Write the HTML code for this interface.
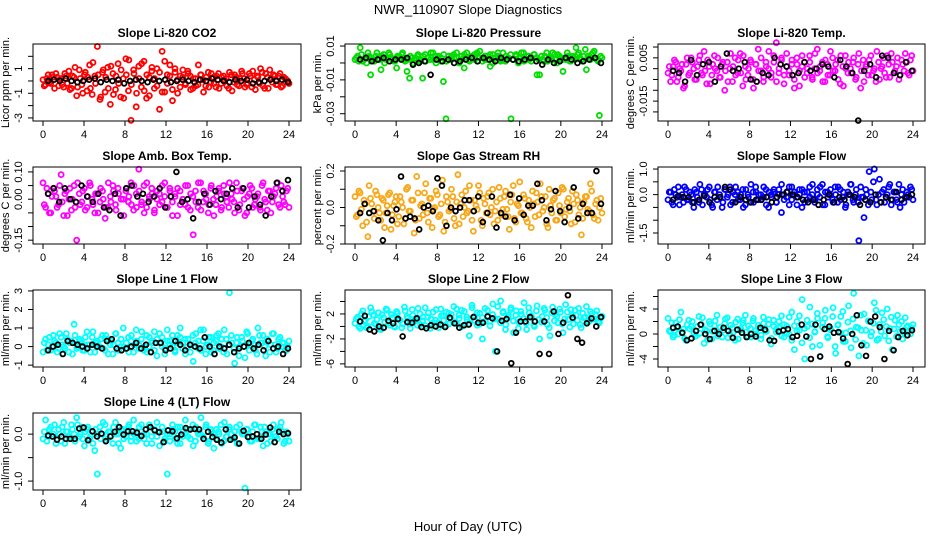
<!DOCTYPE html>
<html><head><meta charset="utf-8">
<style>
html,body{margin:0;padding:0;background:#fff;}
svg{display:block;font-family:"Liberation Sans",sans-serif;}
</style></head>
<body>
<svg id="chart" width="936" height="540" viewBox="0 0 936 540" xmlns="http://www.w3.org/2000/svg">
<text x="468" y="14" font-size="13" text-anchor="middle">NWR_110907  Slope Diagnostics</text>
<text x="468" y="531" font-size="13" text-anchor="middle">Hour of Day (UTC)</text>
</svg>
<script>
// ---- data (colored = all measurements, black = flagged/reference) ----
const co2Vals=[0.1,-0.3,0.5,-0.2,0.3,0.6,-0.4,0.2,-0.5,0.4,0.8,-0.6,0.3,-1.2,0.9,-0.3,0.5,-0.8,1.3,-1.1,0.4,2.8,-1.5,0.7,-0.9,1.1,-1.9,0.6,-0.7,1.4,-1.3,0.2,1.8,-0.8,-3.2,0.9,-2.1,1.2,-0.5,1.6,-1.4,0.3,0.8,-0.6,1.0,-2.3,2.4,-0.9,0.5,1.3,-1.6,0.7,-1.0,0.4,0.9,-0.3,0.6,-0.7,0.2,-0.4,1.3,0.5,-0.9,0.3,-0.5,0.6,-0.2,0.4,-0.6,0.3,0.1,-0.4,0.7,-0.8,0.5,-0.3,0.2,0.6,-0.5,-0.2,0.4,0.8,-0.7,0.3,1.0,-0.4,0.6,-0.6,0.2,0.5,-0.3,0.4,-0.5,0.3,0.1,-0.2];
const co2Vals2=[-0.4,0.2,-0.1,0.5,-0.6,0.3,0.1,-0.3,0.6,-0.2,-0.7,0.4,1.1,-0.5,0.2,-1.0,0.7,0.3,-0.6,1.5,-0.2,0.5,-1.3,0.9,0.3,-0.6,1.2,-1.1,0.4,-0.2,0.9,-1.4,0.5,1.7,-0.3,0.6,-1.0,0.2,1.4,-0.8,0.5,-1.2,1.1,0.2,-0.4,0.7,-0.9,1.6,-0.2,0.4,-0.7,1.0,0.1,-0.5,0.3,-0.2,0.8,0.4,-0.6,0.2,-0.3,0.5,0.1,-0.4,0.7,-0.1,0.3,-0.5,0.6,-0.2,0.4,0.2,-0.6,0.5,-0.1,0.3,-0.4,0.8,0.2,-0.3,0.6,-0.5,0.1,0.4,-0.2,0.7,-0.6,0.3,0.9,-0.1,0.4,-0.3,0.6,-0.4,0.2,0];
const co2Ref=[0,0.1,0,0.2,0,-0.1,0,0.1,0.2,-0.1,0.1,0,0.1,-0.2,0,0.1,0,-0.1,0.1,0,0.1,-0.1,0,0.1,0,-0.1,0.1,0,0.2,0.1,0,-0.1,0.1,0,0.1,-0.2,-0.1,0,0.1,0,0.1,-0.1];
const presVals=[2,4,9,1,3,6,-7,2,4,3,-4,5,2,6,3,1,-3,4,5,2,-5,-9,3,2,4,1,-9,5,3,2,6,4,3,1,-11,-33,4,2,5,3,1,4,-3,6,2,3,5,1,7,3,2,4,-2,5,3,6,1,2,4,3,-33,2,5,3,6,1,4,2,3,5,-7,-7,2,4,1,3,6,2,5,3,-5,2,4,1,3,9,6,2,4,-4,3,5,7,2,-31,3];
const presVals2=[3,1,5,2,0,4,3,1,6,2,4,0,3,5,2,1,4,3,6,1,2,4,0,3,5,2,4,1,3,6,2,0,4,3,5,1,2,4,3,6,0,2,5,3,1,4,2,6,3,1,4,2,5,0,3,4,2,6,1,3,5,2,4,0,3,6,2,4,1,5,3,2,4,1,6,3,2,5,0,4,2,3,6,1,4,2,5,3,1,8,4,2,6,3,1,4];
const presRef=[2,3,1,2,3,1,2,2,3,-1,0,1,-7,2,1,2,0,1,2,3,1,3,2,1,3,2,2,1,2,3,1,-1,2,0,1,3,2,0,1,2,3,0];
const tempVals=[-2,-6,1,3,-4,-1,-9,2,-3,5,0,-5,4,-2,8,-7,1,-3,6,-1,-4,2,-10,3,0,-6,5,-2,7,-8,1,-3,4,-5,2,9,-1,-6,3,0,-4,6,12,-2,5,-7,1,-3,4,-9,2,-1,6,-4,0,3,-5,7,-2,1,-6,4,-3,8,-1,2,-5,6,-8,0,3,-2,5,-4,7,-1,-6,2,4,-3,0,8,-5,1,-2,6,-4,3,-1,5,-3,2,7,-2,4,-1];
const tempVals2=[1,-3,4,-6,0,2,-8,5,-2,3,-5,1,6,-3,-1,4,-7,2,0,5,-4,3,-1,-6,7,1,-3,4,-2,6,-5,0,3,-9,2,-1,5,-4,1,8,-2,3,-6,0,4,-3,7,-1,2,-5,5,-8,1,3,-2,6,-4,0,9,-1,3,-6,2,-3,5,-1,4,-7,1,6,-2,0,3,-5,2,-9,4,1,-3,6,-1,-6,3,0,5,-4,2,7,-2,1,-5,4,-1,3,-3,6];
const tempRef=[-1,-2,-6,4,-3,2,3,-6,1,7,-1,0,3,-5,-6,-2,-3,5,2,1,-3,-2,3,-1,0,2,1,-4,4,1,-2,-24,-1,2,-4,6,5,-2,-3,3,-1];
const ambVals=[6,-3,2,-5,4,1,-2,9,-6,3,0,-4,5,-15,2,-1,4,-3,6,0,-5,2,-1,3,-7,-3,1,5,-2,4,-6,0,3,-1,6,-4,2,11,-2,5,-3,1,4,-5,0,2,-1,6,-3,3,-6,1,4,-2,0,5,-3,2,-13,-1,6,-4,3,0,-2,5,-6,1,4,-3,2,-1,6,0,-5,3,-2,4,-6,1,5,-3,0,2,-4,6,-1,3,-5,1,4,-2,5,-1,3,-3];
const ambVals2=[-2,4,-5,1,3,-3,5,-1,2,-6,4,0,-3,6,-2,3,-4,1,5,-2,2,-5,4,0,-3,6,-1,3,-4,2,0,-6,4,1,-2,5,-3,3,-1,-5,6,0,2,-4,3,-2,5,1,-3,4,-1,2,-6,3,0,-2,5,-4,1,3,-3,6,-1,2,-5,4,0,-2,3,-4,5,1,-3,2,-1,6,-4,3,0,-5,2,4,-2,1,-3,5,0,-4,3,-1,2,6,-3,1,-2,4];
const ambRef=[2,4,-1,4,0,-1,5,1,-1,2,-3,-4,2,-6,4,5,1,2,-1,1,4,-3,1,10,-1,0,-7,-1,2,-2,3,0,2,4,-3,4,-3,1,-2,-6,1,6,3,7];
const rhVals=[6,-4,8,-10,2,-16,5,-2,9,0,-7,4,-3,7,-12,1,6,-5,3,-9,10,-2,4,-14,17,-6,2,8,-3,5,-11,0,7,-4,15,-8,3,-1,6,-10,18,2,-5,9,-2,4,-13,1,12,-7,5,-3,8,0,-9,3,11,-4,6,-1,-12,7,-6,2,14,-3,5,-8,0,9,-5,3,13,-2,6,-11,1,4,-7,8,-3,10,-1,5,-9,2,7,-4,-15,3,6,-2,9,-6,4,0,-3];
const rhVals2=[-5,9,-1,4,-8,12,2,-6,7,-3,5,-11,1,8,-4,3,-9,6,0,-6,11,-2,4,-7,8,1,-4,13,-8,5,-1,9,-5,2,-13,6,-2,10,-6,3,-9,7,0,-3,12,-7,4,-1,8,-10,2,6,-4,10,-2,-7,5,-1,9,-5,3,12,-8,1,-3,7,-6,4,-11,2,8,-4,6,0,-9,10,-3,5,-7,1,11,-5,3,-2,9,-8,4,0,-6,6,-1,13,-4,2,-7,5];
const rhRef=[-3,2,-3,-2,-7,-18,-3,-7,-1,17,-6,-5,-6,-12,0,1,-2,16,12,-10,0,-2,0,4,4,-2,6,-8,-3,6,-11,-3,-5,7,-7,5,-4,1,1,13,4,-7,-1,9,-2,-8,0,11,-6,2,-3,-3,20,2];
const sampVals=[-2,1,-4,0,3,-1,-3,2,-2,0,-5,1,-3,2,0,-1,3,-4,1,-2,0,-5,2,-1,3,-3,0,1,-2,2,-4,0,-3,1,3,-2,0,-1,2,-5,0,1,-3,2,-7,0,-1,3,-2,1,-4,0,2,-3,1,-1,4,-2,0,3,-4,1,-1,2,-3,0,3,-2,1,-4,0,4,-3,2,-18,-1,-9,0,9,-2,10,-4,6,1,-3,0,4,-2,1,-3,-5,2,-1,0,3,-2];
const sampVals2=[1,-3,2,-1,-4,0,3,-2,1,-3,2,-1,4,-4,0,2,-2,-5,1,3,-1,-3,2,0,-4,1,3,-2,0,-5,2,-1,4,-3,1,0,-2,3,-4,1,-1,2,-3,0,4,-2,1,-4,3,0,-1,2,-5,1,-2,3,0,-3,2,-1,4,-4,1,0,-2,3,-3,2,-1,-5,1,4,-2,0,-3,3,-1,2,-4,1,5,-2,0,-3,2,-1,3,-4,1,-2,4,0,-3,1,-1,2];
const sampRef=[-2,-0.5,-1,-1,-3,-2,-0.5,-3,-1,-1,3,2,-3,-1,-2,-3,-2,-2,-1,-3,-1,0,1,0,-1,-2,-3,-2,-4,-2,0,-3,-1,-2,0,-1,-4,-2,-3,0,-3,-1,-2,1,-2,-1,0];
const line1Vals=[-0.3,0.4,0.1,-0.2,0.6,0.2,-0.1,0.5,0,0.7,-0.3,0.3,1.2,-0.1,0.4,0.2,-0.2,0.8,0.1,0.5,-0.3,0.3,0,0.6,-0.2,0.4,0.1,-0.4,0.7,0.2,0,1.0,-0.1,0.5,0.3,-0.3,0.9,0.1,0.4,-0.2,0.6,0,0.3,0.8,-0.5,0.2,0.5,-0.1,0.9,0.3,0,-0.3,0.6,1.0,0.2,-0.4,0.4,0.1,-0.8,0.7,0.3,-0.2,0.9,0,0.5,-0.3,0.2,0.6,-0.1,0.4,0.9,-0.4,2.9,0.2,-0.9,0.5,0,0.3,-0.6,0.7,0.1,0.4,-0.2,1.0,0.2,0.6,-0.5,0.3,0.1,0.7,-0.3,0.4,0,0.2,-0.2,0.3];
const line1Vals2=[0.2,-0.2,0.5,0,0.3,-0.3,0.7,0.1,-0.1,0.4,0.2,-0.4,0.6,0,0.3,-0.2,0.5,0.1,-0.3,0.8,0.2,0,0.4,-0.1,0.6,-0.4,0.3,0.1,0.7,-0.2,0.4,0,0.2,-0.3,0.6,0.1,0.3,-0.1,0.8,0,-0.3,0.5,0.2,-0.2,0.4,0.7,0,-0.4,0.3,0.1,0.6,-0.2,0.2,0.5,-0.1,0.4,0,-0.3,0.6,0.2,-0.1,0.9,0.3,-0.4,0.1,0.5,-0.2,0.3,0.7,0,-0.3,0.4,0.1,0.6,-0.1,0.2,-0.5,0.5,0,0.8,-0.2,0.3,0.1,-0.4,0.6,0.2,0,0.4,-0.3,0.7,0.1,-0.1,0.5,0.2,-0.2,0];
const line1Ref=[-0.2,0,0.1,-0.4,0.3,0.2,0.1,0,-0.1,0.1,0,-0.1,0.3,0.4,-0.1,-0.2,-0.1,0,0.2,-0.1,0.1,-0.3,0.2,0.2,-0.2,-0.1,0.3,0.1,-0.2,0.1,0,-0.1,0.5,0,-0.4,0,-0.1,0.1,-0.3,-0.1,0,0.2,-0.1,0.1,-0.2,0.3,-0.1,0,-0.4,-0.1];
const line2Vals=[0.5,1.5,-0.3,2.5,1,0,3,1.8,0.3,2.2,-0.5,1.4,2.8,0.6,1.9,0,2.4,1.1,-0.2,3.1,1.6,0.4,2.7,1.2,0.2,2,0.9,3,1.5,-0.3,2.3,1,0.6,2.8,1.7,0.1,2.1,1.3,3.2,0.5,1.8,2.6,0.2,1.5,-1.5,3.4,1,2.2,0.4,-2,2.9,1.7,0.8,3.6,-4,1.2,4.1,2.4,0.3,1.8,3,-1,2.5,0.7,1.9,3.8,-0.5,2.2,1.4,0,3.3,-2,1.6,2.6,0.3,-1.5,3.1,1.9,0.6,2.3,-1,3.5,1.1,2.7,0.4,1.8,2.9,-0.2,1.4,3.2,0.8,2,1.2,2.5,0.6,1.6];
const line2Vals2=[1.2,0,2,0.8,-0.2,1.6,2.4,0.5,1.1,-0.4,1.9,0.7,2.6,0.2,1.4,-0.1,2.1,1,0.4,2.5,1.3,-0.3,1.8,0.9,2.9,0.3,1.5,0.1,2.2,1.2,0.6,2.7,-0.2,1.7,1,2.3,0.4,1.9,0.7,2.8,1.3,0,2.4,1.1,0.5,3,1.6,0.2,2.1,1.4,0.8,2.6,0.1,1.9,1.2,3.2,0.6,2.2,-0.5,1.5,2.7,0.9,1.8,-0.3,2.4,1.3,0.5,3,1.7,0.2,2.5,1.1,0.7,2.9,1.4,-0.2,2.2,0.9,1.6,2.8,0.4,1.2,2.3,-0.1,1.8,2.6,1,0.3,2.1,1.5,0.7,2.4,1.2,1.9,0.8,1.3];
const line2Ref=[0.8,1.7,-0.5,-0.8,0,-0.2,0.9,0.5,1.2,-1.6,0.7,0.6,1.3,-0.1,-0.3,0.2,0,0.3,-0.1,1.4,0.5,-0.2,0.2,0.3,1.5,0.6,0.6,1.6,1.3,-4,0.9,1.2,-5.9,-1,0.8,0.8,1.5,0.8,-4.4,0.8,-4.4,2.4,-1.2,0.6,5,1.4,-2,-2.6,0.5,1.3,0,1.5];
const line3Vals=[2.5,0.3,-0.5,1.8,0,3.5,0.8,-1,2.2,1.2,0,-0.3,2.8,1.5,-1.5,0.5,2,-0.8,1.3,3,0.2,-0.5,1.7,2.6,0,1,-1,2.4,0.6,1.8,3,-0.4,0.9,2.1,0,1.4,-0.8,2.7,0.5,1.6,-1.6,2.2,0.3,1,2.9,-0.5,1.3,0,3.5,-2.5,2,0.6,5.5,-4,1.2,4.3,-2,0.4,2.5,-3.6,1.8,3.8,-0.6,0.9,4.2,-3.1,1.5,2.8,-1.2,0.2,4.5,-2.2,6.5,1.1,-3.5,0.6,3.2,-1.8,2,0.3,5,-1,1.5,3.4,-0.3,4,0.9,-2.5,2.2,3,0.4,-0.8,2.6,1.3,0,1.5];
const line3Vals2=[0.5,1.8,-0.2,1,2.3,0.3,-0.7,1.5,0.8,2,-0.4,1.2,0.1,2.6,0.7,-0.9,1.6,0.4,2.1,-0.3,1.1,0.6,2.4,-0.6,1.4,0.2,1.9,-0.8,0.9,2.2,0.3,1.3,-0.5,2.5,0.6,1,-0.2,1.7,0.4,2.3,-0.7,1.2,0.8,2,-0.3,1.5,0.1,2.7,-1,1.3,0.5,2.9,-1.4,0.9,2.2,-0.6,1.6,0.3,3.3,-1.8,1.1,2.5,-0.4,0.7,2.8,-2,1.4,0.2,3.6,-1.2,1.9,0.5,2.4,-0.9,1,3,-1.5,0.6,2.1,-0.3,1.7,3.8,-0.8,0.4,2.3,1.2,-1.1,2.7,0.8,-0.4,1.5,2,0.2,1.1,0.6,1];
const line3Ref=[1,1.2,0.2,-1,-0.7,0.5,1.5,0,-0.8,0.5,0,1,0.5,-0.6,0.7,0.2,-0.5,0,-0.4,1,0.7,-1,-1.1,0.4,0.6,0.8,-0.5,-0.3,1.5,-0.4,-4,1.5,-3.6,0.8,1.2,0.2,0.3,-0.7,-4.8,0,3,-1.8,-3.5,2,2.8,1.1,-4,0.5,-2.6,-0.5,0.5,-0.2,0.6];
const line4Vals=[-10,30,-5,15,0,-20,10,-15,25,5,-10,20,0,35,-5,15,-25,10,-10,5,-35,-85,15,0,20,-10,5,-20,25,0,-30,10,-5,15,-15,30,5,-10,20,0,-20,15,-5,10,25,-25,5,-15,-85,0,20,-10,15,-20,5,30,-5,10,-25,15,0,35,-10,20,-15,5,-30,10,0,-20,25,-5,15,-10,5,-20,20,0,-115,10,-15,5,20,-10,15,-25,5,0,-15,20,-5,10,25,-20,5,-15];
const line4Vals2=[5,-15,10,-5,20,-10,0,15,-20,5,-5,10,-15,20,0,-10,5,15,-5,-20,10,0,-10,25,-15,5,-5,15,0,-20,10,-10,5,20,-5,0,-15,15,5,-10,0,20,-20,10,-5,5,15,-10,0,-15,10,5,-20,15,-5,0,10,-10,20,-15,5,0,-5,15,-20,10,0,-10,5,20,-15,-5,10,0,-10,15,-20,5,0,10,-5,-15,20,0,-10,5,15,-20,0,10,-5,-10,15,5,-15,0];
const line4Ref=[-3,-5,-12,-5,-10,-10,-10,12,14,-13,6,-5,1,-15,-5,5,15,-1,6,6,3,-4,10,15,8,4,-17,8,6,-9,-1,13,10,11,10,-10,5,-6,-12,-18,10,-12,-7,-20,7,-6,-5,0,-10,-1,14,-17,5,0,2];
const xTicks=[0,4,8,12,16,20,24];
const panelTitles=["Slope Li-820 CO2","Slope Li-820 Pressure","Slope Li-820 Temp.","Slope Amb. Box Temp.","Slope Gas Stream RH","Slope Sample Flow","Slope Line 1 Flow","Slope Line 2 Flow","Slope Line 3 Flow","Slope Line 4 (LT) Flow"];
const yTitles=["Licor ppm per min.","kPa per min.","degrees C per min.","degrees C per min.","percent per min.","ml/min per min.","ml/min per min.","ml/min per min.","ml/min per min.","ml/min per min."];
const yTickVals=[[-3,-2,-1,0,1,2],[0.01,0,-0.01,-0.02,-0.03],[0.01,0.005,0,-0.005,-0.01,-0.015,-0.02],[0.1,0.05,0,-0.05,-0.1,-0.15],[0.2,0.1,0,-0.1,-0.2],[1,0.5,0,-0.5,-1,-1.5],[3,2,1,0,-1],[4,2,0,-2,-4,-6],[6,4,2,0,-2,-4],[0,-0.5,-1]];
const yTickLabels=[["-3","","-1","","1",""],["0.01","","-0.01","","-0.03"],["","0.005","","","","-0.015",""],["0.10","","0.00","","","-0.15"],["0.2","","0.0","","-0.2"],["1.0","","0.0","","","-1.5"],["3","2","1","0","-1"],["","2","","-2","","-6"],["","4","","0","","-4"],["0.0","","-1.0"]];
// ---- layout (not data) ----
const cols=[{l:33,r:301,x0:43,x24:289},{l:345,r:612,x0:355,x24:602},{l:658,r:925,x0:668,x24:913}];
const rows=[{t:44,b:121},{t:167,b:244},{t:290,b:367},{t:413,b:490}];
const panels=[
 {c:0,r:0,vals:co2Vals,vals2:co2Vals2,ref:co2Ref,sc:1,ymin:-3.25,ymax:3.0,col:"#ff0000"},
 {c:1,r:0,vals:presVals,vals2:presVals2,ref:presRef,sc:0.001,ymin:-0.0343,ymax:0.0112,col:"#00dd00"},
 {c:2,r:0,vals:tempVals,vals2:tempVals2,ref:tempRef,sc:0.001,ymin:-0.0242,ymax:0.0114,col:"#ff00ff"},
 {c:0,r:1,vals:ambVals,vals2:ambVals2,ref:ambRef,sc:0.01,ymin:-0.164,ymax:0.118,col:"#ff00ff"},
 {c:1,r:1,vals:rhVals,vals2:rhVals2,ref:rhRef,sc:0.01,ymin:-0.2,ymax:0.222,col:"#f7a81a"},
 {c:2,r:1,vals:sampVals,vals2:sampVals2,ref:sampRef,sc:0.1,ymin:-1.93,ymax:1.08,col:"#0000ff"},
 {c:0,r:2,vals:line1Vals,vals2:line1Vals2,ref:line1Ref,sc:1,ymin:-1.1,ymax:3.05,col:"#00ffff"},
 {c:1,r:2,vals:line2Vals,vals2:line2Vals2,ref:line2Ref,sc:1,ymin:-6.5,ymax:5.84,col:"#00ffff"},
 {c:2,r:2,vals:line3Vals,vals2:line3Vals2,ref:line3Ref,sc:1,ymin:-5.28,ymax:7.04,col:"#00ffff"},
 {c:0,r:3,vals:line4Vals,vals2:line4Vals2,ref:line4Ref,sc:0.01,ymin:-1.19,ymax:0.45,col:"#00ffff"}
];
const NS="http://www.w3.org/2000/svg";
const svg=document.getElementById('chart');
function mk(tag,attrs,parent){const e=document.createElementNS(NS,tag);for(const k in attrs)e.setAttribute(k,attrs[k]);(parent||svg).appendChild(e);return e;}
panels.forEach((p,pi)=>{
 const C=cols[p.c],R=rows[p.r];
 const g=mk('g',{});
 
 
 const xs=h=>C.x0+(h/24)*(C.x24-C.x0);
 const ys=v=>R.b-(v-p.ymin)/(p.ymax-p.ymin)*(R.b-R.t);
 const title=mk('text',{x:(C.l+C.r)/2,y:R.t-7,'font-size':12,'font-weight':'bold','text-anchor':'middle'},g);
 title.textContent=panelTitles[pi];
 
 
 const cx=C.l-24,cy=(R.t+R.b)/2;
 const yt=mk('text',{x:cx,y:cy,'font-size':11,'text-anchor':'middle',transform:`rotate(-90 ${cx} ${cy})`},g);
 yt.textContent=yTitles[pi];
 
 
 const n=p.vals.length;
 p.vals.forEach((v,i)=>{
  const h=i*24/(n-1);
  const c=mk('circle',{cx:xs(h),cy:ys(v*p.sc),r:2.5,fill:'none',stroke:p.col,'stroke-width':1.8},g);
  
  
 });
 const n2=p.vals2.length;
 p.vals2.forEach((v,i)=>{
  const h=(i+0.5)*24/n2;
  const c=mk('circle',{cx:xs(h),cy:ys(v*p.sc),r:2.5,fill:'none',stroke:p.col,'stroke-width':1.8},g);
  
  
 });
 const m=p.ref.length;
 p.ref.forEach((v,i)=>{
  const h=0.5+i*23.4/(m-1);
  const c=mk('circle',{cx:xs(h),cy:ys(v*p.sc),r:2.4,fill:'none',stroke:'#000','stroke-width':1.8},g);
  
  
 });
 const box=mk('rect',{x:C.l,y:R.t,width:C.r-C.l,height:R.b-R.t,fill:'none',stroke:'#000','stroke-width':1},g);
 
 
 xTicks.forEach(t=>{
  const x=xs(t);
  mk('line',{x1:x,x2:x,y1:R.b,y2:R.b+5,stroke:'#000'},g);
  const tl=mk('text',{x:x,y:R.b+17,'font-size':11,'text-anchor':'middle'},g);
  tl.textContent=t;
  
  
 });
 yTickVals[pi].forEach((t,k)=>{
  const y=ys(t);
  mk('line',{x1:C.l-5,x2:C.l,y1:y,y2:y,stroke:'#000'},g);
  const lab=yTickLabels[pi][k];
  if(lab!==""){
   const tx=C.l-11;
   const tl=mk('text',{x:tx,y:y,'font-size':11,'text-anchor':'middle',transform:`rotate(-90 ${tx} ${y})`},g);
   tl.textContent=lab;
   
   
  }
 });
});
</script>
</body></html>
